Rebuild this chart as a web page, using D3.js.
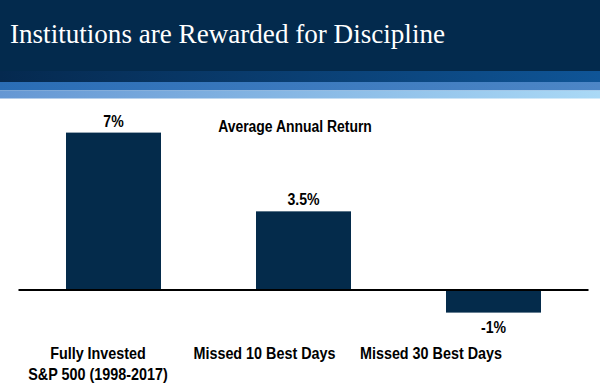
<!DOCTYPE html>
<html>
<head>
<meta charset="utf-8">
<script src="https://cdn.jsdelivr.net/npm/d3@7"></script>
<style>
  body { margin: 0; background: #fff; }
  #chart { width: 600px; height: 388px; }
  text { font-family: "Liberation Sans", Arial, sans-serif; }
</style>
</head>
<body>
<div id="chart"></div>
<script>
// Datos
const categories = ['Fully Invested|S&P 500 (1998-2017)', 'Missed 10 Best Days', 'Missed 30 Best Days'];
const values = [7, 3.5, -1];
const valueLabels = ['7%', '3.5%', '-1%'];
const title = 'Institutions are Rewarded for Discipline';
const subtitle = 'Average Annual Return';

const W = 600, H = 388;
const svg = d3.select('#chart').append('svg').attr('width', W).attr('height', H);

// Texto algo estrecho, como en la diapositiva original
function narrow(sel, k) {
  sel.each(function() {
    const w = this.getComputedTextLength();
    d3.select(this).attr('textLength', w * k).attr('lengthAdjust', 'spacingAndGlyphs');
  });
}

// Cabecera con bandas en degradado
const defs = svg.append('defs');
const bands = [
  {id: 'g1', y: 71, h: 11, from: '#05294f', to: '#0f5597'},
  {id: 'g2', y: 82, h: 8.5, from: '#2a6db5', to: '#4d86c6'},
  {id: 'g3', y: 90.5, h: 8, from: '#6597d3', to: '#aad9f6'}
];
svg.append('rect').attr('x', 0).attr('y', 0).attr('width', W).attr('height', 72).attr('fill', '#032a4d');
bands.forEach(function(b) {
  const g = defs.append('linearGradient').attr('id', b.id).attr('x1', '0%').attr('x2', '100%');
  g.append('stop').attr('offset', '0%').attr('stop-color', b.from);
  g.append('stop').attr('offset', '100%').attr('stop-color', b.to);
  svg.append('rect').attr('x', 0).attr('y', b.y).attr('width', W).attr('height', b.h).attr('fill', 'url(#' + b.id + ')');
});

svg.append('text')
  .attr('x', 10).attr('y', 43)
  .attr('fill', '#fff')
  .style('font-family', '"Liberation Serif", "DejaVu Serif", serif')
  .style('font-size', '27px')
  .attr('textLength', 435).attr('lengthAdjust', 'spacingAndGlyphs')
  .text(title);

// Escalas
const x = d3.scaleBand().domain(categories).range([18.5, 588.5]).paddingInner(0.5).paddingOuter(0.25);
const y = d3.scaleLinear().domain([-1, 7]).range([312.6, 132.6]);
// Etiquetas de categoría (desplazadas respecto a las barras, como en el original)
const xl = d3.scalePoint().domain(categories).range([98, 431]);

const chart = svg.append('g');

chart.selectAll('.bar')
  .data(values)
  .enter()
  .append('rect')
  .attr('class', 'bar')
  .attr('x', (d, i) => x(categories[i]))
  .attr('width', x.bandwidth())
  .attr('y', d => y(Math.max(0, d)))
  .attr('height', d => Math.abs(y(d) - y(0)))
  .attr('fill', '#042b4b');

// Eje cero
chart.append('line')
  .attr('x1', x.range()[0]).attr('x2', x.range()[1])
  .attr('y1', y(0)).attr('y2', y(0))
  .attr('stroke', '#000').attr('stroke-width', 2);

// Valores
chart.selectAll('.val')
  .data(values)
  .enter()
  .append('text')
  .attr('class', 'val')
  .attr('x', (d, i) => x(categories[i]) + x.bandwidth() / 2)
  .attr('y', d => d >= 0 ? y(d) - 6 : y(d) + 20)
  .attr('text-anchor', 'middle')
  .style('font-size', '16px').style('font-weight', 'bold')
  .text((d, i) => valueLabels[i])
  .call(narrow, 0.88);

svg.append('text')
  .attr('x', 295).attr('y', 132)
  .attr('text-anchor', 'middle')
  .style('font-size', '16px').style('font-weight', 'bold')
  .text(subtitle)
  .call(narrow, 0.87);

// Categorías
const cat = chart.selectAll('.cat')
  .data(categories)
  .enter()
  .append('text')
  .attr('class', 'cat')
  .attr('text-anchor', 'middle')
  .style('font-size', '16.5px').style('font-weight', 'bold');

cat.each(function(d) {
  const lines = d.split('|');
  const t = d3.select(this);
  lines.forEach(function(l, j) {
    t.append('tspan').attr('x', xl(d)).attr('y', 359 + j * 21).text(l);
  });
});
cat.selectAll('tspan').call(narrow, 0.87);
</script>
</body>
</html>
